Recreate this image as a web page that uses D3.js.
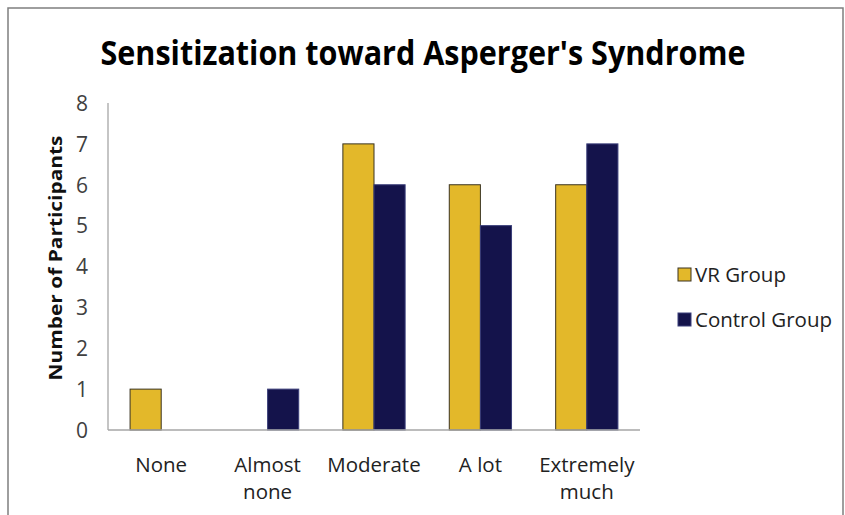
<!DOCTYPE html>
<html><head><meta charset="utf-8">
<script src="https://cdn.jsdelivr.net/npm/d3@7"></script>
<style>body{margin:0;background:#fff}svg{display:block}</style>
</head><body>
<script>
const categories = ["None", "Almost none", "Moderate", "A lot", "Extremely much"];
const categoryLines = [["None"], ["Almost", "none"], ["Moderate"], ["A lot"], ["Extremely", "much"]];
const seriesNames = ["VR Group", "Control Group"];
const vrValues = [1, 0, 7, 6, 6];
const controlValues = [0, 1, 6, 5, 7];
const yTicks = [0, 1, 2, 3, 4, 5, 6, 7, 8];
const colors = ["#E3B82A", "#14134B"];

(function () {
const W = 845, H = 515;
const svg = d3.select("body").append("svg").attr("width", W).attr("height", H);
svg.append("rect").attr("width", W).attr("height", H).attr("fill", "#fff");
svg.append("path").attr("d", "M8,515 L8,8 L843,8 L843,515").attr("fill", "none").attr("stroke", "#7f7f7f").attr("stroke-width", 1.5);

const pL = 108, pR = 640, pT = 103, pB = 430;
const x0 = d3.scaleBand().domain(categories).range([pL, pR]).paddingInner(0.415).paddingOuter(0.2075);
const x1 = d3.scaleBand().domain(seriesNames).range([0, x0.bandwidth()]);
const y = d3.scaleLinear().domain([0, 8]).range([pB, pT]);

const data = categories.map((c, i) => ({cat: c, vals: [vrValues[i], controlValues[i]]}));
svg.append("g").selectAll("g.cat").data(data).join("g").attr("class", "cat")
  .attr("transform", d => `translate(${x0(d.cat)},0)`)
  .selectAll("rect").data(d => d.vals.map((v, j) => ({v, s: seriesNames[j], j})).filter(e => e.v > 0))
  .join("rect")
  .attr("x", e => x1(e.s)).attr("width", x1.bandwidth())
  .attr("y", e => y(e.v)).attr("height", e => y(0) - y(e.v))
  .attr("fill", e => colors[e.j])
  .attr("stroke", e => e.j === 0 ? "#3a3320" : "#3b3f7a").attr("stroke-width", 1);

svg.append("line").attr("x1", pL).attr("x2", pL).attr("y1", pT).attr("y2", pB).attr("stroke", "#a6a6a6").attr("stroke-width", 1.3);
svg.append("line").attr("x1", pL).attr("x2", pR).attr("y1", pB).attr("y2", pB).attr("stroke", "#a6a6a6").attr("stroke-width", 1.3);

const font = "Open Sans, Noto Sans, sans-serif";
const yAxis = d3.axisLeft(y).tickValues(yTicks).tickSize(0).tickPadding(0).tickFormat(d3.format("d"));
const ya = svg.append("g").attr("transform", `translate(${pL - 20},0)`).call(yAxis);
ya.select(".domain").remove();
ya.selectAll("text").attr("font-family", font).attr("font-size", 21).attr("fill", "#404040").attr("dy", "0.35em");

const xl = svg.append("g");
categoryLines.forEach((lines, i) => {
  const cx = x0(categories[i]) + x0.bandwidth() / 2;
  lines.forEach((t, k) => {
    xl.append("text").attr("x", cx).attr("y", 472 + k * 27).attr("text-anchor", "middle")
      .attr("font-family", font).attr("font-size", 20.5).attr("fill", "#222").text(t);
  });
});

svg.append("text").attr("x", 423).attr("y", 65).attr("text-anchor", "middle")
  .attr("font-family", font).attr("font-weight", "bold").attr("font-size", 34)
  .attr("textLength", 645).attr("lengthAdjust", "spacingAndGlyphs")
  .attr("fill", "#000").text("Sensitization toward Asperger's Syndrome");

svg.append("text").attr("transform", "translate(62,258) rotate(-90)").attr("text-anchor", "middle")
  .attr("font-family", font).attr("font-weight", "bold").attr("font-size", 18.5)
  .attr("textLength", 245).attr("lengthAdjust", "spacingAndGlyphs")
  .attr("fill", "#111").text("Number of Participants");

const lg = svg.append("g");
seriesNames.forEach((s, i) => {
  const yy = 268 + i * 45;
  lg.append("rect").attr("x", 678).attr("y", yy).attr("width", 13).attr("height", 13)
    .attr("fill", colors[i]).attr("stroke", i === 0 ? "#3a3320" : "#3b3f7a").attr("stroke-width", 1);
  lg.append("text").attr("x", 695).attr("y", yy + 14).attr("font-family", font).attr("font-size", 20.5)
    .attr("fill", "#222").text(s);
});
})();
</script>
</body></html>
